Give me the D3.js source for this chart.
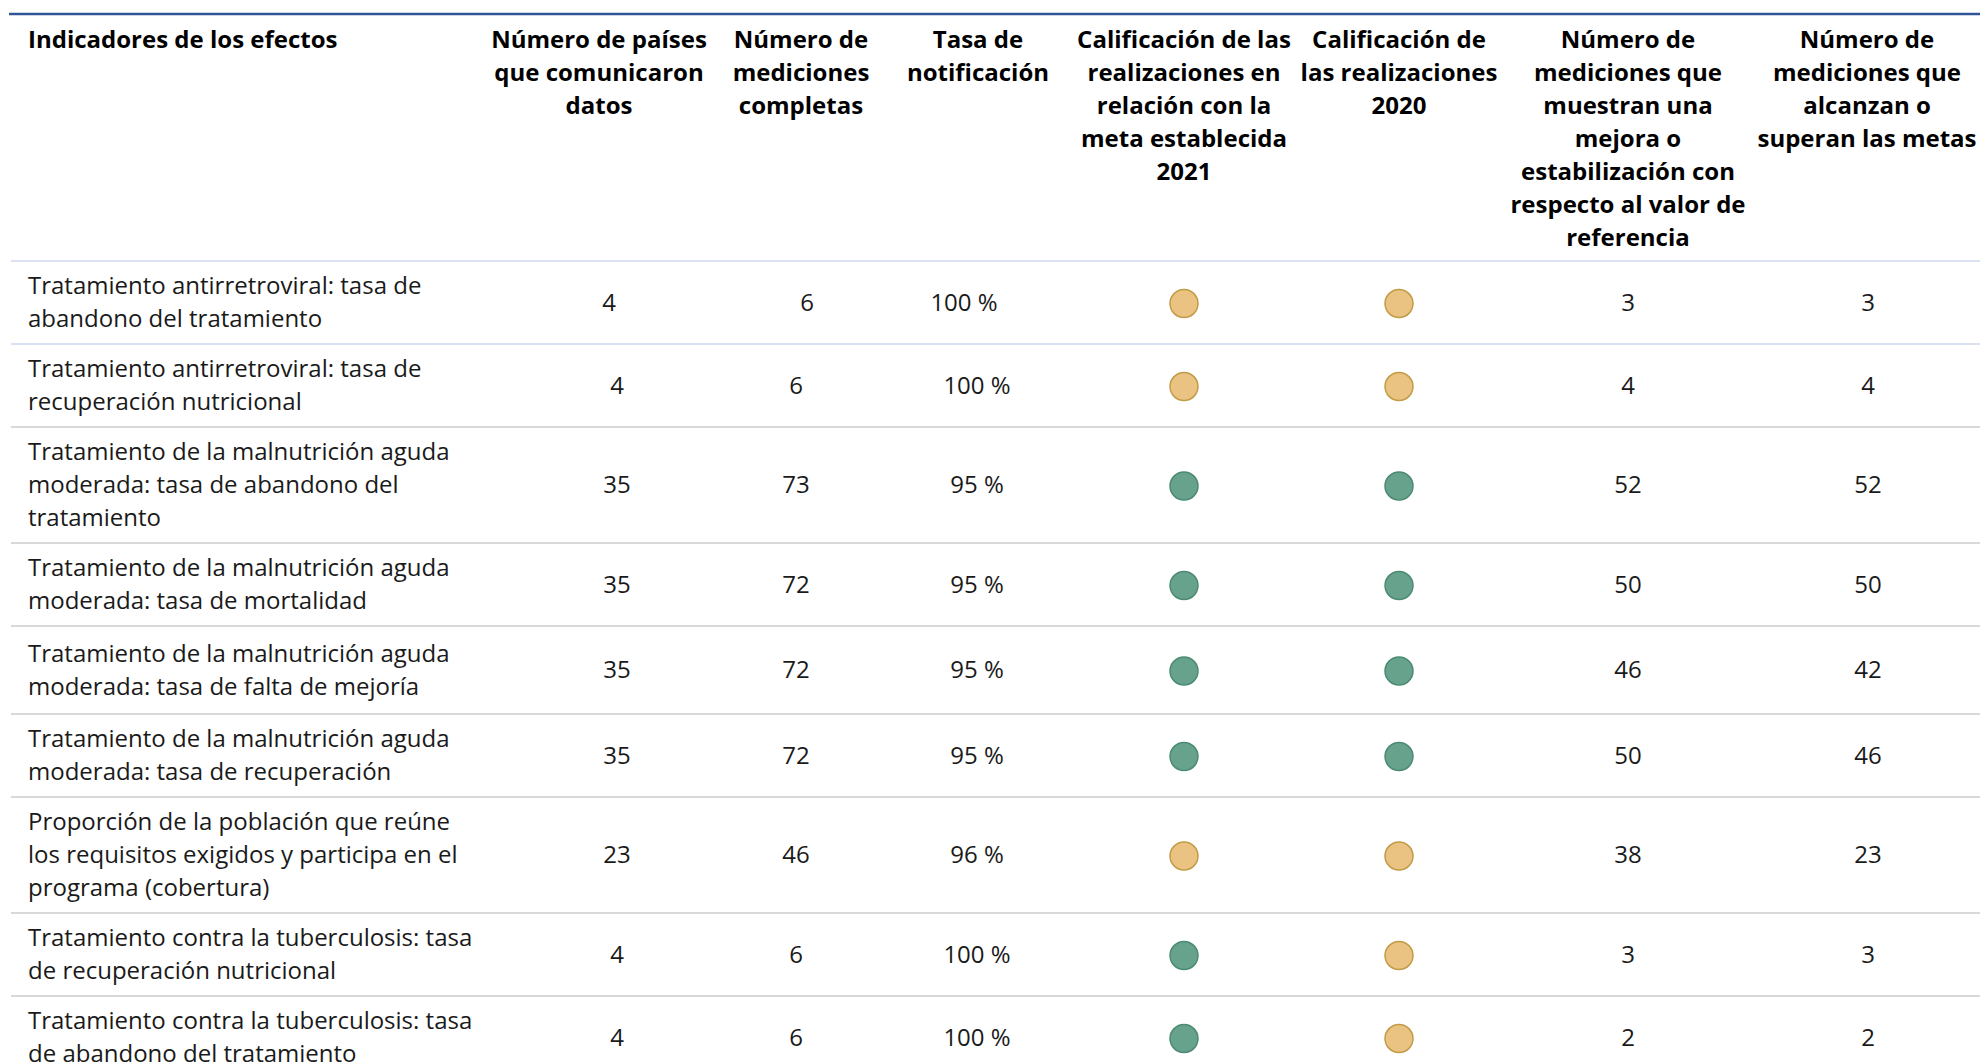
<!DOCTYPE html>
<html>
<head>
<meta charset="utf-8">
<script src="https://cdn.jsdelivr.net/npm/d3@7"></script>
<style>
  html, body { margin: 0; padding: 0; background: #ffffff; }
  svg { display: block; font-family: "Open Sans", "Noto Sans", sans-serif; }
</style>
</head>
<body>
<svg id="table" width="1980" height="1064"></svg>
<script>
// Column headers, one entry per line as printed
const headers = [
  ["Indicadores de los efectos"],
  ["Número de países", "que comunicaron", "datos"],
  ["Número de", "mediciones", "completas"],
  ["Tasa de", "notificación"],
  ["Calificación de las", "realizaciones en", "relación con la", "meta establecida", "2021"],
  ["Calificación de", "las realizaciones", "2020"],
  ["Número de", "mediciones que", "muestran una", "mejora o", "estabilización con", "respecto al valor de", "referencia"],
  ["Número de", "mediciones que", "alcanzan o", "superan las metas"]
];

const indicators = [
  ["Tratamiento antirretroviral: tasa de", "abandono del tratamiento"],
  ["Tratamiento antirretroviral: tasa de", "recuperación nutricional"],
  ["Tratamiento de la malnutrición aguda", "moderada: tasa de abandono del", "tratamiento"],
  ["Tratamiento de la malnutrición aguda", "moderada: tasa de mortalidad"],
  ["Tratamiento de la malnutrición aguda", "moderada: tasa de falta de mejoría"],
  ["Tratamiento de la malnutrición aguda", "moderada: tasa de recuperación"],
  ["Proporción de la población que reúne", "los requisitos exigidos y participa en el", "programa (cobertura)"],
  ["Tratamiento contra la tuberculosis: tasa", "de recuperación nutricional"],
  ["Tratamiento contra la tuberculosis: tasa", "de abandono del tratamiento"]
];

const countriesReporting = [4, 4, 35, 35, 35, 35, 23, 4, 4];
const completeMeasurements = [6, 6, 73, 72, 72, 72, 46, 6, 6];
const reportingRate = [100, 100, 95, 95, 95, 95, 96, 100, 100];
const rating2021 = ["amber", "amber", "green", "green", "green", "green", "amber", "green", "green"];
const rating2020 = ["amber", "amber", "green", "green", "green", "green", "amber", "amber", "amber"];
const improvedOrStable = [3, 4, 52, 50, 46, 50, 38, 3, 2];
const meetingTargets = [3, 4, 52, 50, 42, 46, 23, 3, 2];

// layout
const width = 1980;
const fontSize = 24;
const lineHeight = 33;
const tableTop = 14;
const headerBottom = 261;
const rowPad = 17;
const tableLeft = 11;
const textLeft = 28;
const textNudge = -1.5;

const headerX = [textLeft, 599, 801, 978, 1184, 1399, 1628, 1867];
const cellX = [textLeft, 617, 796, 977, 1184, 1399, 1628, 1868];
// the first row of the source table sits slightly off its column centres
const firstRowShift = [0, -8, 11, -13, 0, 0, 0, 0];
// the "falta de mejoría" row is a little taller in the source
const extraRowSpace = [0, 0, 0, 0, 5, 0, 0, 0, 0];

const ratingFill = { amber: "#eac383", green: "#67a38c" };
const ratingStroke = { amber: "#c19b46", green: "#4c8a72" };

const rows = indicators.map((label, i) => ({
  label,
  cells: [
    countriesReporting[i],
    completeMeasurements[i],
    `${reportingRate[i]} %`,
    { rating: rating2021[i] },
    { rating: rating2020[i] },
    improvedOrStable[i],
    meetingTargets[i]
  ]
}));

// row boundaries from line counts
let cursor = headerBottom;
rows.forEach((row, i) => {
  row.top = cursor;
  row.height = row.label.length * lineHeight + rowPad + extraRowSpace[i];
  cursor += row.height;
});

const y = d3
  .scaleOrdinal()
  .domain(rows.map((_, i) => i))
  .range(rows.map((r) => r.top + r.height / 2));

const svg = d3.select("#table");

svg
  .append("rect")
  .attr("width", width)
  .attr("height", 1064)
  .attr("fill", "#ffffff");

// top rule
svg
  .append("line")
  .attr("x1", tableLeft - 2)
  .attr("x2", width)
  .attr("y1", tableTop)
  .attr("y2", tableTop)
  .attr("stroke", "#2f5597")
  .attr("stroke-width", 2.5);

// header
const headerG = svg.append("g").attr("class", "header");
headers.forEach((lines, c) => {
  headerG
    .append("text")
    .attr("x", headerX[c])
    .attr("text-anchor", c === 0 ? "start" : "middle")
    .attr("font-size", fontSize)
    .attr("font-weight", 700)
    .attr("fill", "#000000")
    .selectAll("tspan")
    .data(lines)
    .join("tspan")
    .attr("x", headerX[c])
    .attr("y", (_, k) => tableTop + 24 + k * lineHeight)
    .attr("dominant-baseline", "central")
    .text((d) => d);
});

// separators
const separators = [headerBottom].concat(rows.map((r) => r.top + r.height));
svg
  .append("g")
  .selectAll("line")
  .data(separators)
  .join("line")
  .attr("x1", tableLeft)
  .attr("x2", width)
  .attr("y1", (d) => d)
  .attr("y2", (d) => d)
  .attr("stroke", (_, i) => (i < 2 ? "#d9e1f2" : "#d9d9d9"))
  .attr("stroke-width", 2);

// body
const body = svg.append("g").attr("class", "body");
rows.forEach((row, i) => {
  const cy = y(i);
  const g = body.append("g");

  g.append("text")
    .attr("font-size", fontSize)
    .attr("fill", "#1a1a1a")
    .selectAll("tspan")
    .data(row.label)
    .join("tspan")
    .attr("x", textLeft)
    .attr("y", (_, k) => cy + textNudge + (k - (row.label.length - 1) / 2) * lineHeight)
    .attr("dominant-baseline", "central")
    .text((d) => d);

  row.cells.forEach((cell, c) => {
    const cx = cellX[c + 1] + (i === 0 ? firstRowShift[c + 1] : 0);
    if (typeof cell === "object") {
      g.append("circle")
        .attr("cx", cx)
        .attr("cy", cy + 1)
        .attr("r", 14)
        .attr("fill", ratingFill[cell.rating])
        .attr("stroke", ratingStroke[cell.rating])
        .attr("stroke-width", 1.5);
    } else {
      g.append("text")
        .attr("x", cx)
        .attr("y", cy + textNudge)
        .attr("text-anchor", "middle")
        .attr("dominant-baseline", "central")
        .attr("font-size", fontSize)
        .attr("fill", "#1a1a1a")
        .text(cell);
    }
  });
});
</script>
</body>
</html>
